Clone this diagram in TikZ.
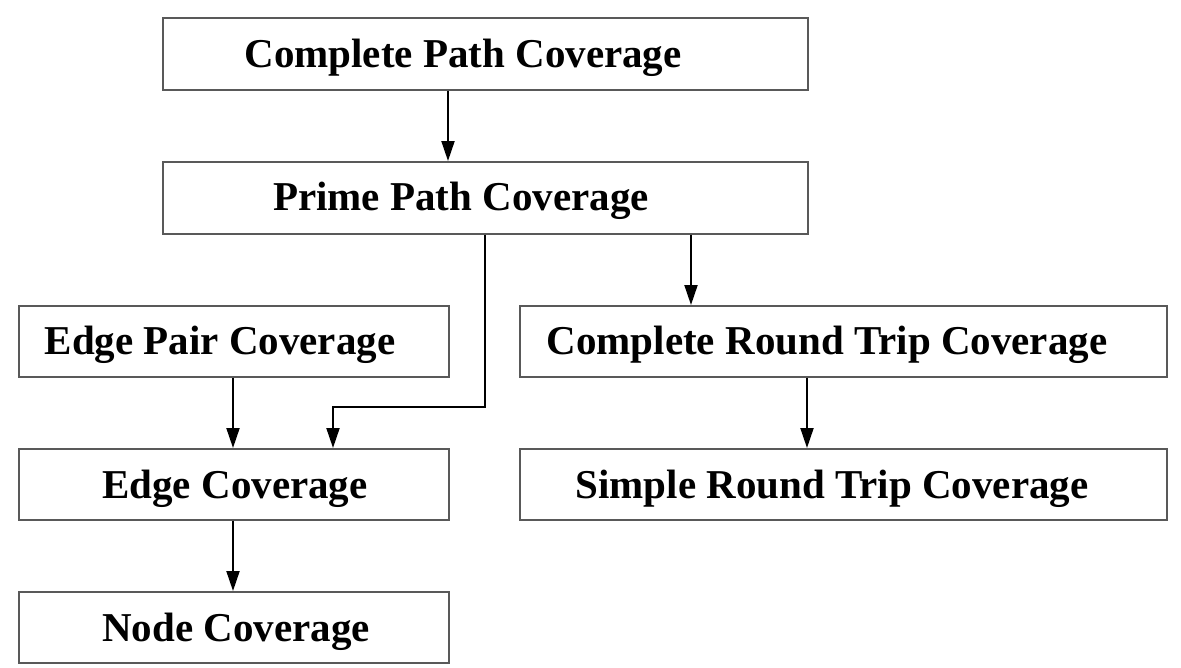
\documentclass[tikz,border=0pt]{standalone}
\usepackage{fontspec}
\setmainfont{Liberation Serif}
\usetikzlibrary{arrows.meta}
\begin{document}
\begin{tikzpicture}[x=1pt,y=-1pt,
  box/.style={draw=black!65,line width=1.6pt,rectangle,inner sep=0pt,anchor=north west},
  lbl/.style={font=\fontsize{41}{49}\selectfont\bfseries,inner sep=0pt,text=black},
  conn/.style={draw=black,line width=2pt,-{Triangle[width=13pt,length=20pt]}}]
\useasboundingbox[fill=white] (0,0) rectangle (1181,667);
% boxes
\node[box,minimum width=645pt,minimum height=72pt] (cpc) at (162,17) {};
\node[box,minimum width=645pt,minimum height=72pt] (ppc) at (162,161) {};
\node[box,minimum width=430pt,minimum height=71pt] (epc) at (18,305) {};
\node[box,minimum width=647pt,minimum height=71pt] (crt) at (519,305) {};
\node[box,minimum width=430pt,minimum height=71pt] (ec) at (18,448) {};
\node[box,minimum width=647pt,minimum height=71pt] (srt) at (519,448) {};
\node[box,minimum width=430pt,minimum height=71pt] (nc) at (18,591) {};
% labels
\node[lbl] (tcpc) at (463,58) {Complete Path Coverage};
\node[lbl] (tppc) at (461,201) {Prime Path Coverage};
\node[lbl] (tepc) at (220,345) {Edge Pair Coverage};
\node[lbl] (tcrt) at (827,345) {Complete Round Trip Coverage};
\node[lbl] (tec) at (235,489) {Edge Coverage};
\node[lbl] (tsrt) at (832,489) {Simple Round Trip Coverage};
\node[lbl] (tnc) at (236,632) {Node Coverage};
% connectors
\draw[conn] (cpc.south west) ++(286,0) coordinate (a1) -- (a1 |- ppc.north);
\draw[conn] (ppc.south west) ++(529,0) coordinate (a2) -- (a2 |- crt.north);
\draw[conn] (ppc.south west) ++(323,0) coordinate (a3) -- ++(0,172) coordinate (a4) -- ++(-152,0) coordinate (a5) -- (a5 |- ec.north);
\draw[conn] (epc.south west) ++(215,0) coordinate (a6) -- (a6 |- ec.north);
\draw[conn] (ec.south west) ++(215,0) coordinate (a7) -- (a7 |- nc.north);
\draw[conn] (crt.south west) ++(288,0) coordinate (a8) -- (a8 |- srt.north);
\end{tikzpicture}
\end{document}
